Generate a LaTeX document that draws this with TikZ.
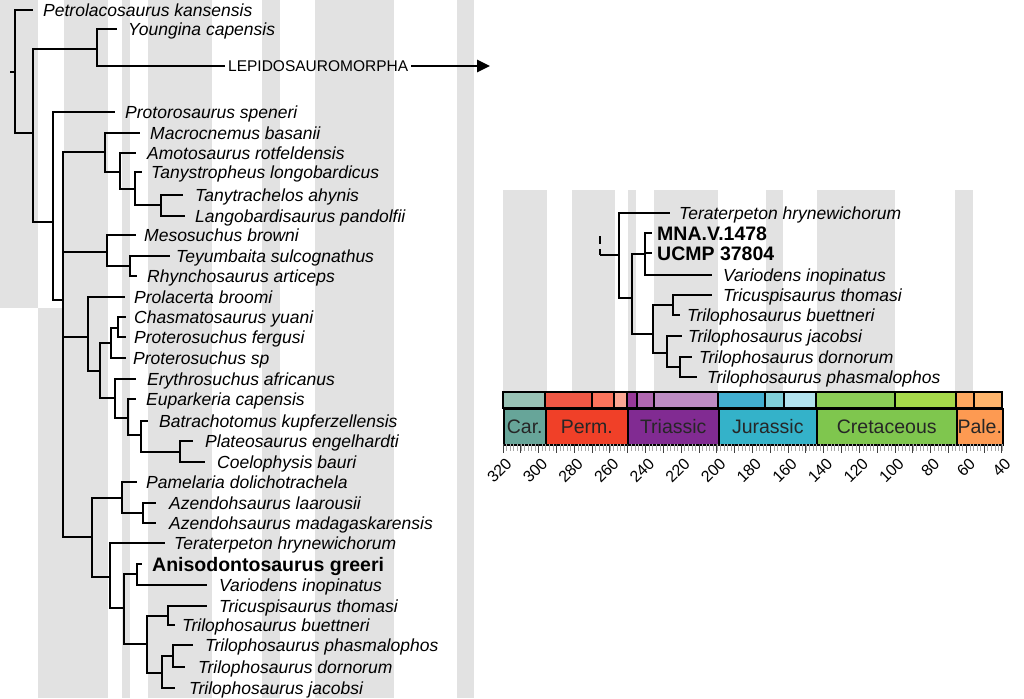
\documentclass[tikz,border=0pt]{standalone}
\usepackage{fontspec}
\setmainfont{Liberation Sans}
\usetikzlibrary{arrows.meta}
\definecolor{stripe}{HTML}{E2E2E2}
\newcommand{\myleaf}[5]{\coordinate (t#1) at (#2,#4); \node[lab] (#1) at (#3,#4) {#5};}
\newcommand{\myboldleaf}[5]{\coordinate (t#1) at (#2,#4); \node[blab] (#1) at (#3,#4) {#5};}
\begin{document}
\begin{tikzpicture}[x=1pt,y=-1pt,
  br/.style={line width=2.5pt, line join=miter},
  lab/.style={anchor=base west, inner sep=0pt, yshift=-6.3pt, font=\fontsize{17.5}{20}\selectfont\itshape},
  blab/.style={anchor=base west, inner sep=0pt, yshift=-7pt, font=\fontsize{19.5}{22}\selectfont\bfseries},
  per/.style={draw=black, line width=1.5pt},
  perlab/.style={font=\fontsize{19.5}{22}\selectfont, text=black!85},
  agelab/.style={font=\fontsize{16}{18}\selectfont, rotate=45, anchor=east, inner sep=0pt}]
\useasboundingbox (0,0) rectangle (1024,698);
% ---------- background stripes ----------
\foreach \a/\b in {0/38,64/108,122/130,148/212,262/280,315/394,457/474}
  \fill[stripe] (\a,0) rectangle (\b,308);
\foreach \a/\b in {38/108,122/130,148/212,262/280,315/394,457/474}
  \fill[stripe] (\a,308) rectangle (\b,698);
\foreach \a/\b in {503/547,572/615,628/636,654/718,766/783,817/895,955/973}
  \fill[stripe] (\a,190) rectangle (\b,392);
% ---------- left tree ----------
\coordinate (lroot0) at (10,72);
\coordinate (lroot) at (15,72);
\coordinate (nA) at (33,133);
\coordinate (nB) at (97,49);
\coordinate (nC) at (53,222);
\coordinate (nD) at (63,300);
\coordinate (nE) at (105,152);
\coordinate (nE2) at (120,172);
\coordinate (nE3) at (135,189);
\coordinate (nE4) at (161,205);
\coordinate (nF) at (107,252);
\coordinate (nF2) at (130,266);
\coordinate (nG) at (88,337);
\coordinate (nQ) at (100,371);
\coordinate (nQ1) at (111,343);
\coordinate (nQ1a) at (118,328);
\coordinate (nQ2) at (115,398);
\coordinate (nQ3) at (128,418);
\coordinate (nQ4) at (141,435);
\coordinate (nQ5) at (180,452);
\coordinate (nH) at (92,537);
\coordinate (nI) at (122,498);
\coordinate (nI2) at (143,513);
\coordinate (nJ) at (110,577);
\coordinate (nK) at (124,608);
\coordinate (nL) at (137,574);
\coordinate (nM) at (147,644);
\coordinate (nN) at (168,616);
\coordinate (nO) at (162,673);
\coordinate (nP) at (173,656);

\myleaf{Petro}{33}{43}{10}{Petrolacosaurus kansensis}
\myleaf{Young}{117}{128}{29}{Youngina capensis}
\myleaf{Proto}{115}{125}{112}{Protorosaurus speneri}
\myleaf{Macro}{140}{150}{133}{Macrocnemus basanii}
\myleaf{Amoto}{136}{147}{153}{Amotosaurus rotfeldensis}
\myleaf{Tany}{142}{151}{172}{Tanystropheus longobardicus}
\myleaf{Tanyt}{183}{195}{195}{Tanytrachelos ahynis}
\myleaf{Lango}{185}{195}{216}{Langobardisaurus pandolfii}
\myleaf{Meso}{136}{144}{235}{Mesosuchus browni}
\myleaf{Teyu}{170}{176}{256}{Teyumbaita sulcognathus}
\myleaf{Rhyn}{137}{147}{276}{Rhynchosaurus articeps}
\myleaf{Prol}{125}{134}{297}{Prolacerta broomi}
\myleaf{Chas}{126}{134}{317}{Chasmatosaurus yuani}
\myleaf{Pfer}{126}{134}{337}{Proterosuchus fergusi}
\myleaf{Psp}{126}{133}{358}{Proterosuchus sp}
\myleaf{Eryth}{136}{147}{379}{Erythrosuchus africanus}
\myleaf{Eupa}{136}{146}{399}{Euparkeria capensis}
\myleaf{Batr}{148}{159}{421}{Batrachotomus kupferzellensis}
\myleaf{Plat}{193}{205}{441}{Plateosaurus engelhardti}
\myleaf{Coel}{205}{217}{462}{Coelophysis bauri}
\myleaf{Pame}{137}{146}{482}{Pamelaria dolichotrachela}
\myleaf{Azl}{156}{169}{503}{Azendohsaurus laarousii}
\myleaf{Azm}{156}{169}{523}{Azendohsaurus madagaskarensis}
\myleaf{Tera}{165}{174}{543}{Teraterpeton hrynewichorum}
\myboldleaf{Aniso}{142}{152}{564}{Anisodontosaurus greeri}
\myleaf{Vario}{207}{219}{585}{Variodens inopinatus}
\myleaf{Tricu}{207}{219}{606}{Tricuspisaurus thomasi}
\myleaf{Buet}{175}{182}{625}{Trilophosaurus buettneri}
\myleaf{Phas}{193}{205}{645}{Trilophosaurus phasmalophos}
\myleaf{Dorn}{185}{198}{667}{Trilophosaurus dornorum}
\myleaf{Jaco}{175}{189}{688}{Trilophosaurus jacobsi}

\node[anchor=west, inner xsep=3pt, inner ysep=1pt, font=\fontsize{15.5}{18}\selectfont] (lepi) at (225,66) {LEPIDOSAUROMORPHA};
\coordinate (lepiEnd) at (490,66);

\draw[br] (lroot0) -- (lroot);
\draw[br] (lroot) |- (tPetro);
\draw[br] (lroot) |- (nA);
\draw[br] (nA) |- (nB);
\draw[br] (nA) |- (nC);
\draw[br] (nB) |- (tYoung);
\draw[br] (nB) |- (lepi.west);
\draw[br, -{Triangle[length=13pt,width=12pt]}] (lepi.east) -- (lepiEnd);
\draw[br] (nC) |- (tProto);
\draw[br] (nC) |- (nD);
\draw[br] (nD) |- (nE);
\draw[br] (nD) |- (nF);
\draw[br] (nD) |- (nG);
\draw[br] (nD) |- (nH);
\draw[br] (nE) |- (tMacro);
\draw[br] (nE) |- (nE2);
\draw[br] (nE2) |- (tAmoto);
\draw[br] (nE2) |- (nE3);
\draw[br] (nE3) |- (tTany);
\draw[br] (nE3) |- (nE4);
\draw[br] (nE4) |- (tTanyt);
\draw[br] (nE4) |- (tLango);
\draw[br] (nF) |- (tMeso);
\draw[br] (nF) |- (nF2);
\draw[br] (nF2) |- (tTeyu);
\draw[br] (nF2) |- (tRhyn);
\draw[br] (nG) |- (tProl);
\draw[br] (nG) |- (nQ);
\draw[br] (nQ) |- (nQ1);
\draw[br] (nQ) |- (nQ2);
\draw[br] (nQ1) |- (nQ1a);
\draw[br] (nQ1) |- (tPsp);
\draw[br] (nQ1a) |- (tChas);
\draw[br] (nQ1a) |- (tPfer);
\draw[br] (nQ2) |- (tEryth);
\draw[br] (nQ2) |- (nQ3);
\draw[br] (nQ3) |- (tEupa);
\draw[br] (nQ3) |- (nQ4);
\draw[br] (nQ4) |- (tBatr);
\draw[br] (nQ4) |- (nQ5);
\draw[br] (nQ5) |- (tPlat);
\draw[br] (nQ5) |- (tCoel);
\draw[br] (nH) |- (nI);
\draw[br] (nH) |- (nJ);
\draw[br] (nI) |- (tPame);
\draw[br] (nI) |- (nI2);
\draw[br] (nI2) |- (tAzl);
\draw[br] (nI2) |- (tAzm);
\draw[br] (nJ) |- (tTera);
\draw[br] (nJ) |- (nK);
\draw[br] (nK) |- (nL);
\draw[br] (nK) |- (nM);
\draw[br] (nL) |- (tAniso);
\draw[br] (nL) |- (tVario);
\draw[br] (nM) |- (nN);
\draw[br] (nM) |- (nO);
\draw[br] (nN) |- (tTricu);
\draw[br] (nN) |- (tBuet);
\draw[br] (nO) |- (nP);
\draw[br] (nO) |- (tJaco);
\draw[br] (nP) |- (tPhas);
\draw[br] (nP) |- (tDorn);

% ---------- right tree ----------
\coordinate (rtop) at (600,236);
\coordinate (rroot) at (600,255);
\coordinate (rR) at (619,255);
\coordinate (rX) at (632,298);
\coordinate (rS) at (645,254);
\coordinate (rT) at (653,334);
\coordinate (rU) at (673,305);
\coordinate (rV) at (667,353);
\coordinate (rW) at (680,367);
\myleaf{TeraR}{670}{679}{213}{Teraterpeton hrynewichorum}
\myboldleaf{MNA}{652}{657}{233}{MNA.V.1478}
\myboldleaf{UCMP}{652}{657}{253}{UCMP 37804}
\myleaf{VarioR}{712}{723}{275}{Variodens inopinatus}
\myleaf{TricuR}{712}{723}{295}{Tricuspisaurus thomasi}
\myleaf{BuetR}{680}{687}{315}{Trilophosaurus buettneri}
\myleaf{JacoR}{682}{688}{336}{Trilophosaurus jacobsi}
\myleaf{DornR}{692}{699}{357}{Trilophosaurus dornorum}
\myleaf{PhasR}{697}{707}{377}{Trilophosaurus phasmalophos}
\draw[br, dash pattern=on 8pt off 5pt] (rtop) -- (rroot);
\draw[br] (rroot) -- (rR);
\draw[br] (rR) |- (tTeraR);
\draw[br] (rR) |- (rX);
\draw[br] (rX) |- (rS);
\draw[br] (rX) |- (rT);
\draw[br] (rS) |- (tMNA);
\draw[br] (rS) |- (tUCMP);
\draw[br] (rS) |- (tVarioR);
\draw[br] (rT) |- (rU);
\draw[br] (rT) |- (rV);
\draw[br] (rU) |- (tTricuR);
\draw[br] (rU) |- (tBuetR);
\draw[br] (rV) |- (tJacoR);
\draw[br] (rV) |- (rW);
\draw[br] (rW) |- (tDornR);
\draw[br] (rW) |- (tPhasR);

% ---------- time scale ----------
\foreach \a/\b/\c in {503/545/99C2B5, 545/592/EF5845, 592/614/FB745C, 614/627/FBA794,
  627/637/983999, 637/654/B168B1, 654/718/BD8CC3, 718/765/42AED0, 765/784/80CFD8,
  784/816/B3E3EE, 816/895/8CCD57, 895/956/A6D84A, 956/974/FDA75F, 974/1002/FDB46C}
  {\definecolor{cellc}{HTML}{\c}
   \filldraw[per, fill=cellc] (\a,392) rectangle (\b,408);}
\definecolor{pCar}{HTML}{67A599}
\definecolor{pPerm}{HTML}{F04028}
\definecolor{pTri}{HTML}{812B92}
\definecolor{pJur}{HTML}{34B2C9}
\definecolor{pCret}{HTML}{7FC64E}
\definecolor{pPale}{HTML}{FD9A52}
\node[per, fill=pCar, minimum width=42pt, minimum height=36pt, anchor=north west, inner sep=0pt] (car) at (503,408) {};
\node[per, fill=pPerm, minimum width=82pt, minimum height=36pt, anchor=north west, inner sep=0pt] (perm) at (545,408) {};
\node[per, fill=pTri, minimum width=91pt, minimum height=36pt, anchor=north west, inner sep=0pt] (tri) at (627,408) {};
\node[per, fill=pJur, minimum width=98pt, minimum height=36pt, anchor=north west, inner sep=0pt] (jur) at (718,408) {};
\node[per, fill=pCret, minimum width=140pt, minimum height=36pt, anchor=north west, inner sep=0pt] (cret) at (816,408) {};
\node[per, fill=pPale, minimum width=46pt, minimum height=36pt, anchor=north west, inner sep=0pt] (pale) at (956,408) {};
\node[perlab] (carT) at (car.center) {Car.};
\node[perlab] (permT) at (perm.center) {Perm.};
\node[perlab] (triT) at (tri.center) {Triassic};
\node[perlab] (jurT) at (jur.center) {Jurassic};
\node[perlab] (cretT) at (cret.center) {Cretaceous};
\node[perlab] (paleT) at (pale.center) {Pale.};
% ticks
\foreach \m in {40,42,...,320}
  \draw[black!35, line width=0.6pt] ({503+(320-\m)*1.782},444) -- ++(0,7);
\foreach \m in {40,50,...,320}
  \draw[black!75, line width=1pt] ({503+(320-\m)*1.782},444) -- ++(0,9);
\foreach \m in {320,300,...,40}
  \node[agelab] (age\m) at ({509+(320-\m)*1.782},461) {\m};
\end{tikzpicture}
\end{document}
